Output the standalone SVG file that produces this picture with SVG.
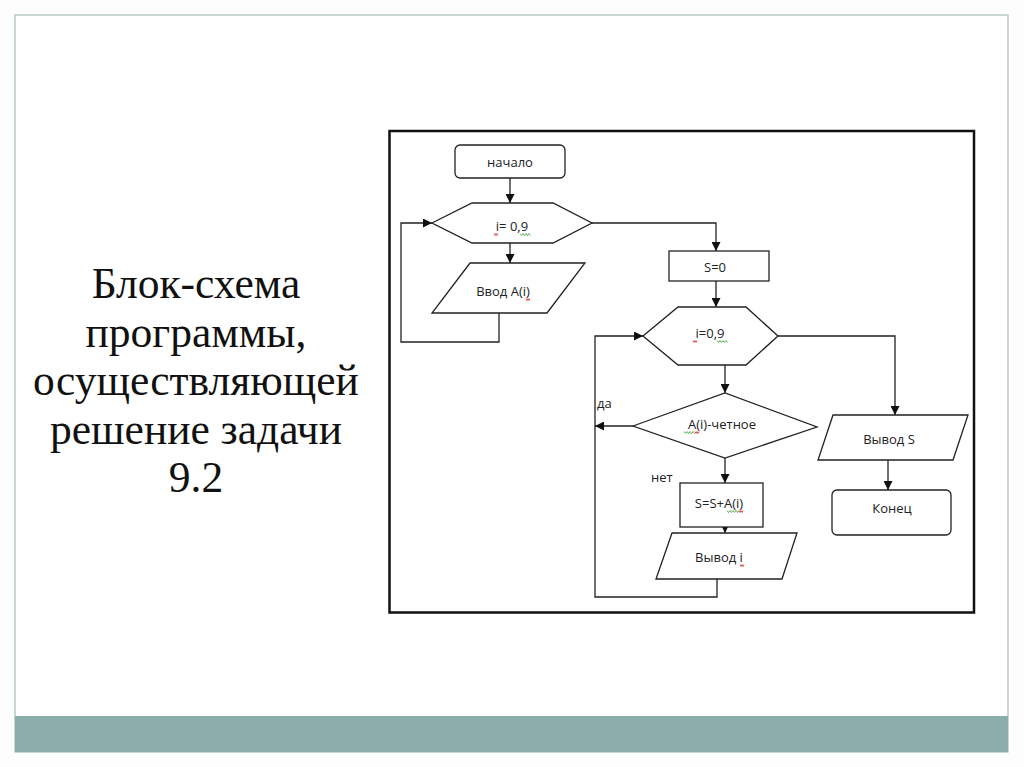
<svg xmlns="http://www.w3.org/2000/svg" width="1024" height="767" viewBox="0 0 1024 767">
<defs>
<marker id="ah" viewBox="0 0 10 10" refX="10" refY="5" markerWidth="9" markerHeight="9" markerUnits="userSpaceOnUse" orient="auto">
<path d="M0,0 L10,5 L0,10 z" fill="#111"/>
</marker>
<style>
.shape{fill:#fff;stroke:#222;stroke-width:1.3}
.conn{fill:none;stroke:#222;stroke-width:1.3}
.lbl{font-family:"Open Sans","Liberation Sans",sans-serif;font-size:13px;fill:#222;text-anchor:middle}
.side{font-family:"Open Sans","Liberation Sans",sans-serif;font-size:13px;fill:#222}
.title{font-family:"Liberation Serif","Times New Roman",serif;font-size:43.5px;fill:#111;text-anchor:middle}
.red{fill:none;stroke:#e03030;stroke-width:0.8}
.green{fill:none;stroke:#30a030;stroke-width:0.8}
</style>
</defs>
<rect x="0" y="0" width="1024" height="767" fill="#fdfdfd"/>
<rect x="15" y="15" width="993" height="737" fill="#fff" stroke="#a9bcbc" stroke-width="1.2"/>
<rect x="15" y="716" width="993" height="36" fill="#8badac"/>
<g id="title">
<text class="title" x="196" y="298">Блок-схема</text>
<text class="title" x="196" y="346.5">программы,</text>
<text class="title" x="196" y="395">осуществляющей</text>
<text class="title" x="196" y="443.5">решение задачи</text>
<text class="title" x="196" y="492">9.2</text>
</g>
<rect x="389.5" y="131" width="584.5" height="481.5" fill="#fff" stroke="#111" stroke-width="2.5"/>
<g id="connectors">
<line class="conn" x1="510" y1="178" x2="510" y2="203" marker-end="url(#ah)"/>
<line class="conn" x1="510" y1="243" x2="510" y2="263" marker-end="url(#ah)"/>
<polyline class="conn" points="499,313 499,342 401,342 401,223 432,223" marker-end="url(#ah)"/>
<polyline class="conn" points="592,223 716,223 716,251" marker-end="url(#ah)"/>
<line class="conn" x1="716" y1="281" x2="716" y2="307" marker-end="url(#ah)"/>
<polyline class="conn" points="778,336 895,336 895,415" marker-end="url(#ah)"/>
<line class="conn" x1="888" y1="460" x2="888" y2="490" marker-end="url(#ah)"/>
<line class="conn" x1="725" y1="365" x2="725" y2="393" marker-end="url(#ah)"/>
<line class="conn" x1="633" y1="426" x2="595" y2="426" marker-end="url(#ah)"/>
<line class="conn" x1="725" y1="458" x2="725" y2="483" marker-end="url(#ah)"/>
<line class="conn" x1="725" y1="527" x2="725" y2="533" marker-end="url(#ah)"/>
<polyline class="conn" points="717,579 717,597 595,597 595,336 643,336" marker-end="url(#ah)"/>
</g>
<g id="start">
<rect class="shape" x="455" y="145" width="110" height="33" rx="5"/>
<text class="lbl" x="510" y="167">начало</text>
</g>
<g id="loop1">
<polygon class="shape" points="432,223 472,203 553,203 592,223 553,243 472,243"/>
<text class="lbl" x="512" y="231">i= 0,9</text>
<path class="red" d="M494,233.5 l1,2 l1,-2 l1,2 l1,-2"/>
<path class="green" d="M520,233.5 l1.5,2 l1.5,-2 l1.5,2 l1.5,-2 l1.5,2 l1.5,-2 l1.5,2"/>
</g>
<g id="input">
<polygon class="shape" points="470,263 585,263 547,313 432,313"/>
<text class="lbl" x="503" y="296">Ввод A(i)</text>
<path class="red" d="M526,298.5 l1,2 l1,-2 l1,2 l1,-2"/>
</g>
<g id="init">
<rect class="shape" x="669" y="251" width="100" height="30"/>
<text class="lbl" x="715" y="272">S=0</text>
</g>
<g id="loop2">
<polygon class="shape" points="643,336 678,307 746,307 778,336 746,365 678,365"/>
<text class="lbl" x="710" y="338">i=0,9</text>
<path class="red" d="M693,340.5 l1,2 l1,-2 l1,2 l1,-2"/>
<path class="green" d="M717,340.5 l1.5,2 l1.5,-2 l1.5,2 l1.5,-2 l1.5,2 l1.5,-2 l1.5,2"/>
</g>
<g id="cond">
<polygon class="shape" points="633,426 725,393 817,427 725,458"/>
<text class="lbl" x="722" y="429">A(i)-четное</text>
<path class="green" d="M684,431.5 l1.5,2 l1.5,-2 l1.5,2 l1.5,-2 l1.5,2 l1.5,-2 l1.5,2"/>
<path class="red" d="M695,431.5 l1,2 l1,-2 l1,2 l1,-2"/>
</g>
<text class="side" x="597" y="408">да</text>
<text class="side" x="651" y="482">нет</text>
<g id="sum">
<rect class="shape" x="680" y="483" width="83" height="44"/>
<text class="lbl" x="719" y="508">S=S+A(i)</text>
<path class="green" d="M727,510.5 l1.5,2 l1.5,-2 l1.5,2 l1.5,-2 l1.5,2 l1.5,-2 l1.5,2 l1.5,-2"/>
<path class="red" d="M739,510.5 l1,2 l1,-2 l1,2 l1,-2"/>
</g>
<g id="outi">
<polygon class="shape" points="672,533 797,533 782,579 656,579"/>
<text class="lbl" x="719" y="562">Вывод i</text>
<path class="red" d="M740,564.5 l1,2 l1,-2 l1,2 l1,-2"/>
</g>
<g id="outs">
<polygon class="shape" points="833,415 968,415 953,460 818,460"/>
<text class="lbl" x="889" y="444">Вывод S</text>
</g>
<g id="end">
<rect class="shape" x="832" y="490" width="119" height="45" rx="5"/>
<text class="lbl" x="892" y="513">Конец</text>
</g>
</svg>
